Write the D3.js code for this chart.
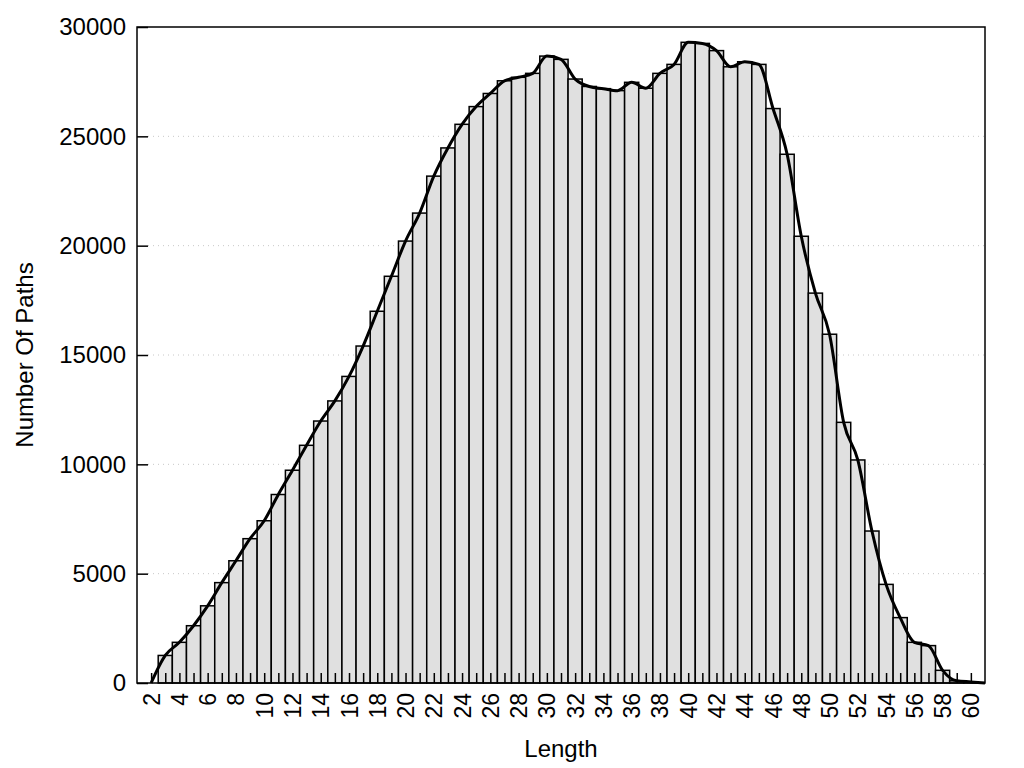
<!DOCTYPE html>
<html>
	<head>
		<title>Path Length Histogram</title>
		<meta charset="utf-8" />
		<script src="https://d3js.org/d3.v7.min.js"></script>
		<style>
            body {
                margin: 0;
                background: white;
            }

            text {
                font-family: "Liberation Sans", Arial, sans-serif;
                fill: black;
            }
        </style>
	</head>
	<body>
		<div id="holder"></div>

        <script>
            //Data
            const lengths = [2, 3, 4, 5, 6, 7, 8, 9, 10, 11, 12, 13, 14, 15, 16, 17, 18, 19, 20, 21,
                22, 23, 24, 25, 26, 27, 28, 29, 30, 31, 32, 33, 34, 35, 36, 37, 38, 39, 40, 41,
                42, 43, 44, 45, 46, 47, 48, 49, 50, 51, 52, 53, 54, 55, 56, 57, 58, 59, 60, 61];
            const paths = [0, 1260, 1860, 2620, 3530, 4590, 5590, 6600, 7420, 8620, 9730, 10870, 11980, 12900, 14020, 15410, 17000, 18600, 20210, 21490,
                23180, 24470, 25550, 26360, 26960, 27540, 27700, 27880, 28670, 28520, 27620, 27280, 27180, 27090, 27470, 27200, 27880, 28290, 29300, 29250,
                28920, 28180, 28410, 28290, 26270, 24180, 20430, 17830, 15950, 11920, 10200, 6950, 4510, 2990, 1860, 1710, 580, 100, 50, 0];
            const yTicks = [0, 5000, 10000, 15000, 20000, 25000, 30000];
            const xTicks = [2, 4, 6, 8, 10, 12, 14, 16, 18, 20, 22, 24, 26, 28, 30, 32, 34, 36, 38, 40, 42, 44, 46, 48, 50, 52, 54, 56, 58, 60];

            //Variables
            const w = 1024;
            const h = 768;
            const margin = {top: 27, right: 39, bottom: 85, left: 137};

            const dat = lengths.map((d, i) => ({len: d, count: paths[i]}));

            const xScale = d3.scaleLinear()
                .domain([1, 61])
                .range([margin.left, w - margin.right]);

            const yScale = d3.scaleLinear()
                .domain([0, 30000])
                .range([h - margin.bottom, margin.top]);

            const bw = xScale(1) - xScale(0);

            const svg = d3.select("#holder")
                .append("svg")
                .attr("width", w)
                .attr("height", h);

            //Grid
            svg.append("g")
                .selectAll("line")
                .data(yTicks.slice(1, -1))
                .enter()
                .append("line")
                .attr("x1", margin.left + 11)
                .attr("x2", w - margin.right)
                .attr("y1", d => yScale(d))
                .attr("y2", d => yScale(d))
                .attr("stroke", "#c8c8c8")
                .attr("stroke-width", 1)
                .attr("stroke-dasharray", "1,4");

            //Bars
            svg.append("g")
                .selectAll("rect")
                .data(dat.filter(d => d.count > 0))
                .enter()
                .append("rect")
                .attr("x", d => xScale(d.len) - bw / 2)
                .attr("y", d => yScale(d.count))
                .attr("width", bw)
                .attr("height", d => yScale(0) - yScale(d.count))
                .attr("fill", "#e0e0e0")
                .attr("stroke", "black")
                .attr("stroke-width", 1.5);

            //Axes (gnuplot style, ticks inside)
            const xAxis = d3.axisBottom(xScale)
                .tickValues(d3.range(2, 61))
                .tickSizeInner(-10)
                .tickSizeOuter(0)
                .tickFormat(d => xTicks.includes(d) ? d : "");
            const gx = svg.append("g")
                .attr("transform", "translate(0," + (h - margin.bottom) + ")")
                .call(xAxis);
            gx.select(".domain").remove();
            gx.selectAll(".tick line").attr("stroke-width", 1.5);
            gx.selectAll(".tick text")
                .attr("transform", "rotate(-90)")
                .attr("text-anchor", "end")
                .attr("x", -10)
                .attr("y", 0)
                .attr("dy", "0.35em")
                .style("font-size", "23px");

            const yAxis = d3.axisLeft(yScale)
                .tickValues(yTicks)
                .tickSizeInner(-11)
                .tickSizeOuter(0)
                .tickPadding(11)
                .tickFormat(d3.format("d"));
            const gy = svg.append("g")
                .attr("transform", "translate(" + margin.left + ",0)")
                .call(yAxis);
            gy.select(".domain").remove();
            gy.selectAll(".tick line").attr("stroke-width", 1.5);
            gy.selectAll(".tick text").style("font-size", "24px");

            //Curve
            svg.append("path")
                .datum(dat)
                .attr("fill", "none")
                .attr("stroke", "black")
                .attr("stroke-width", 3)
                .attr("stroke-linejoin", "round")
                .attr("d", d3.line()
                    .x(d => xScale(d.len))
                    .y(d => yScale(d.count))
                    .curve(d3.curveMonotoneX));

            //Frame
            svg.append("rect")
                .attr("x", margin.left)
                .attr("y", margin.top)
                .attr("width", w - margin.left - margin.right)
                .attr("height", h - margin.top - margin.bottom)
                .attr("fill", "none")
                .attr("stroke", "black")
                .attr("stroke-width", 1.5);

            //Labels
            svg.append("text")
                .attr("text-anchor", "middle")
                .attr("x", (margin.left + w - margin.right) / 2)
                .attr("y", h - 11)
                .style("font-size", "24px")
                .text("Length");

            svg.append("text")
                .attr("text-anchor", "middle")
                .attr("transform", "translate(33," + ((margin.top + h - margin.bottom) / 2) + ") rotate(-90)")
                .style("font-size", "24px")
                .text("Number Of Paths");
        </script>
	</body>
</html>
